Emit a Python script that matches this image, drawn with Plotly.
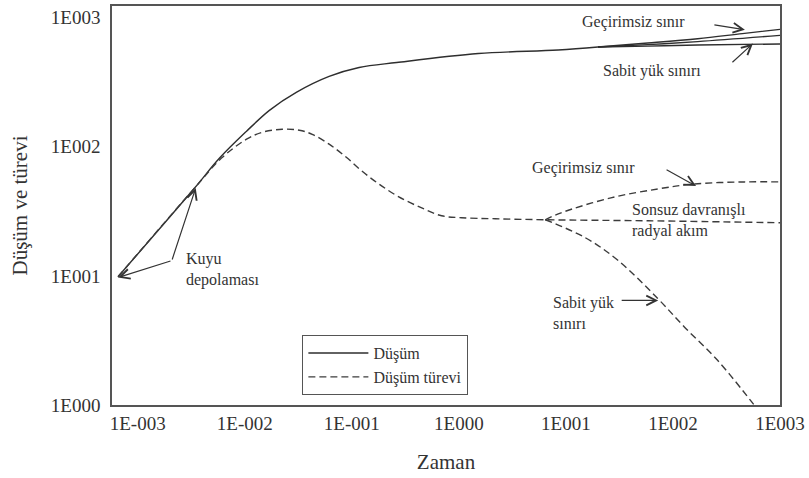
import plotly.graph_objects as go

# ---------------- data ----------------
# Drawdown (Düşüm) – common early/middle part
dd_x = [6.55e-4, 3.40e-3, 5.82e-3, 0.0104, 0.0170, 0.0303, 0.0614, 0.117, 0.263, 1.52, 8.45, 19.9]
dd_y = [9.85, 47.9, 81.7, 131.9, 191.4, 263.6, 350.3, 410.6, 449, 527, 560.7, 591.8]
# late-time drawdown branches
dd_nf_x = [19.9, 58.2, 170, 445, 1000]      # no-flow (Geçirimsiz sınır)
dd_nf_y = [591.8, 635.6, 686.9, 752.1, 811.2]
dd_inf_x = [19.9, 58.2, 170, 1000]          # infinite acting
dd_inf_y = [591.8, 618.1, 651.8, 728.2]
dd_ch_x = [19.9, 58.2, 170, 1000]           # constant head (Sabit yük sınırı)
dd_ch_y = [591.8, 601.8, 613.1, 625.5]

# Derivative (Düşüm türevi) – main + infinite acting radial flow
der_x = [6.55e-4, 3.40e-3, 6.07e-3, 0.0104, 0.0146, 0.0224, 0.0323, 0.0427, 0.0614, 0.0883,
         0.124, 0.179, 0.275, 0.450, 0.690, 1.06, 2.19, 6.41, 58.2, 1000]
der_y = [9.85, 47.9, 81.7, 114.4, 129.5, 136.7, 134.3, 124.8, 104.7, 83.2,
         64.9, 51.5, 40.9, 33.6, 29.2, 28.2, 27.7, 27.2, 26.7, 25.8]
der_nf_x = [6.41, 9.02, 26.3, 72.1, 159, 465, 1000]
der_nf_y = [27.2, 30.8, 40.2, 47.1, 51.5, 53.4, 53.4]
der_ch_x = [6.41, 15.1, 30.6, 72.1, 129, 261, 528, 589]
der_ch_y = [27.2, 19.8, 13.2, 6.68, 3.99, 2.22, 1.09, 0.97]

x_tickvals = [1e-3, 1e-2, 1e-1, 1e0, 1e1, 1e2, 1e3]
x_ticktext = ["1E-003", "1E-002", "1E-001", "1E000", "1E001", "1E002", "1E003"]
y_tickvals = [1, 10, 100, 1000]
y_ticktext = ["1E000", "1E001", "1E002", "1E003"]

# ---------------- styling ----------------
FONT = "'Liberation Serif', 'DejaVu Serif', 'Times New Roman', serif"
INK = "#333333"
SOLID = dict(color="#2e2e2e", width=1.4)
DASH = dict(color="#3c3c3c", width=1.4, dash="7px,4px")

fig = go.Figure()
fig.add_trace(go.Scatter(x=dd_x, y=dd_y, mode="lines", name="Düşüm", line=SOLID,
                         line_shape="spline", legendgroup="dd"))
for bx, by in [(dd_nf_x, dd_nf_y), (dd_inf_x, dd_inf_y), (dd_ch_x, dd_ch_y)]:
    fig.add_trace(go.Scatter(x=bx, y=by, mode="lines", line=SOLID, line_shape="spline",
                             showlegend=False, legendgroup="dd"))
fig.add_trace(go.Scatter(x=der_x, y=der_y, mode="lines", name="Düşüm türevi", line=DASH,
                         line_shape="spline", legendgroup="der"))
for bx, by in [(der_nf_x, der_nf_y), (der_ch_x, der_ch_y)]:
    fig.add_trace(go.Scatter(x=bx, y=by, mode="lines", line=DASH, line_shape="spline",
                             showlegend=False, legendgroup="der"))

# ---------------- annotations ----------------
def text(xl, yl, t):
    fig.add_annotation(x=xl, y=yl, xref="x", yref="y", text=t, showarrow=False,
                       xanchor="left", yanchor="middle", align="left",
                       font=dict(family=FONT, size=16, color=INK))

def arrow(xl, yl, ax, ay):
    fig.add_annotation(x=xl, y=yl, xref="x", yref="y", text="", showarrow=True,
                       ax=ax, ay=ay, arrowhead=5, arrowsize=1.6, arrowwidth=1.2,
                       arrowcolor=INK)

text(1.132, 2.968, "Geçirimsiz sınır")
text(1.327, 2.583, "Sabit yük sınırı")
text(0.667, 1.835, "Geçirimsiz sınır")
text(1.597, 1.430, "Sonsuz davranışlı<br>radyal akım")
text(0.862, 0.713, "Sabit yük<br>sınırı")
text(-2.570, 1.049, "Kuyu<br>depolaması")

arrow(2.672, 2.907, -32, -5)
arrow(2.747, 2.799, -22, 20)
arrow(2.216, 1.696, -31, -17)
arrow(1.862, 0.810, -38, 0)
arrow(-3.184, 0.987, 54, -17)
arrow(-2.458, 1.681, -24, 73)

# ---------------- layout ----------------
axis_common = dict(showline=True, linecolor="#555555", linewidth=1.5, mirror=True,
                   showgrid=False, zeroline=False, ticks="",
                   tickfont=dict(family=FONT, size=19, color=INK))
fig.update_xaxes(type="log", range=[-3.24, 3.0], tickvals=x_tickvals, ticktext=x_ticktext,
                 title=dict(text="Zaman", font=dict(family=FONT, size=21, color=INK), standoff=22),
                 ticklabelstandoff=0, **axis_common)
fig.update_yaxes(type="log", range=[0, 3.09], tickvals=y_tickvals, ticktext=y_ticktext,
                 title=dict(text="Düşüm ve türevi", font=dict(family=FONT, size=21, color=INK), standoff=17),
                 ticklabelstandoff=6, **axis_common)

fig.update_layout(
    width=809, height=478,
    margin=dict(l=112, r=26, t=4, b=73),
    paper_bgcolor="white", plot_bgcolor="white",
    font=dict(family=FONT, color=INK),
    legend=dict(x=0.285, y=0.175, xanchor="left", yanchor="top",
                bgcolor="white", bordercolor="#555555", borderwidth=1,
                font=dict(family=FONT, size=16, color=INK), itemwidth=60,
                tracegroupgap=0),
)

fig.write_html("out.html", config={"displayModeBar": False},
               post_script="document.body.style.margin='0';")
